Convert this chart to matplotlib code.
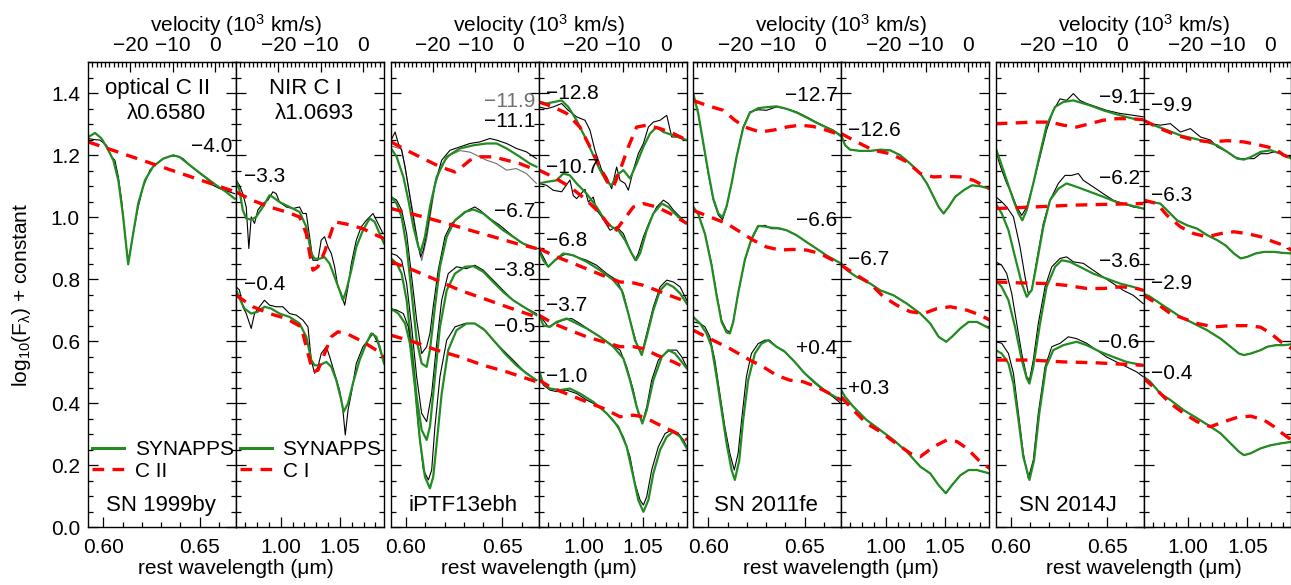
import numpy as np
import matplotlib
matplotlib.use("Agg")
import matplotlib.pyplot as plt
import matplotlib.transforms as mtransforms
from matplotlib.lines import Line2D
from matplotlib.ticker import MultipleLocator, FixedLocator, FormatStrFormatter

plt.rcParams['font.family'] = ['Liberation Sans', 'DejaVu Sans']
plt.rcParams['mathtext.fontset'] = 'custom'
plt.rcParams['mathtext.rm'] = 'Liberation Sans'
plt.rcParams['mathtext.it'] = 'Liberation Sans'

C_KMS = 299792.458
LAM_CII = 0.6580
LAM_CI = 1.0693
GREEN = '#228b22'
FS = 15

# ---------------- SN 1999by ----------------
sn99_o_m40_obs = [(0.5922,1.254),(0.5948,1.251),(0.5982,1.249),(0.6017,1.232),(0.6043,1.195),(0.6060,1.184),(0.6078,1.130),(0.6095,1.055),(0.6112,0.947),(0.6129,0.851),(0.6155,0.947),(0.6181,1.033),(0.6207,1.098),(0.6242,1.152),(0.6276,1.173),(0.6311,1.189),(0.6345,1.197),(0.6380,1.198),(0.6414,1.189),(0.6449,1.168),(0.6501,1.141),(0.6535,1.125),(0.6570,1.103),(0.6605,1.092),(0.6639,1.085),(0.6682,1.076)]
sn99_o_m40_fit = [(0.5922,1.259),(0.5957,1.272),(0.5991,1.254),(0.6026,1.216),(0.6052,1.184),(0.6078,1.119),(0.6103,1.001),(0.6129,0.848),(0.6155,0.947),(0.6181,1.044),(0.6216,1.119),(0.6259,1.164),(0.6311,1.189),(0.6363,1.200),(0.6397,1.194),(0.6449,1.168),(0.6518,1.135),(0.6587,1.103),(0.6639,1.081),(0.6682,1.060)]
sn99_o_m40_ion = [(0.5922,1.243),(0.6300,1.163),(0.6690,1.081)]

sn99_n_m33_obs = [(0.9624,1.119),(0.9652,1.103),(0.9680,1.076),(0.9709,1.033),(0.9731,0.899),(0.9751,1.001),(0.9779,0.980),(0.9807,1.023),(0.9849,1.044),(0.9892,1.055),(0.9934,1.082),(0.9962,1.076),(0.9990,1.049),(1.0047,1.033),(1.0103,1.028),(1.0159,1.033),(1.0187,1.012),(1.0216,1.012),(1.0244,0.937),(1.0272,0.861),(1.0314,0.861),(1.0342,0.926),(1.0370,0.937),(1.0399,0.904),(1.0427,0.883),(1.0455,0.840),(1.0483,0.775),(1.0511,0.754),(1.0540,0.716),(1.0568,0.775),(1.0596,0.850),(1.0638,0.926),(1.0680,0.969),(1.0723,0.990),(1.0779,1.012),(1.0821,0.980),(1.0863,0.947)]
sn99_n_m33_fit = [(0.9624,1.119),(0.9652,1.087),(0.9680,1.023),(0.9709,0.996),(0.9751,0.992),(0.9793,1.001),(0.9849,1.033),(0.9906,1.071),(0.9934,1.065),(0.9990,1.049),(1.0075,1.033),(1.0159,1.017),(1.0216,0.969),(1.0258,0.883),(1.0286,0.866),(1.0328,0.866),(1.0370,0.871),(1.0413,0.850),(1.0455,0.807),(1.0497,0.764),(1.0525,0.732),(1.0554,0.764),(1.0596,0.829),(1.0638,0.904),(1.0694,0.958),(1.0751,0.996),(1.0793,0.985),(1.0835,0.947),(1.0872,0.915)]
sn99_n_m33_ion = [(0.9624,1.081),(0.9765,1.054),(0.9906,1.033),(1.0047,1.017),(1.0159,1.001),(1.0216,0.947),(1.0244,0.883),(1.0272,0.829),(1.0314,0.840),(1.0370,0.888),(1.0413,0.937),(1.0455,0.985),(1.0554,0.978),(1.0694,0.963),(1.0807,0.942),(1.0872,0.931)]

sn99_n_m04_obs = [(0.9624,0.775),(0.9652,0.765),(0.9680,0.711),(0.9709,0.689),(0.9751,0.641),(0.9779,0.689),(0.9821,0.711),(0.9863,0.732),(0.9906,0.716),(0.9962,0.711),(1.0018,0.711),(1.0075,0.689),(1.0131,0.684),(1.0187,0.668),(1.0230,0.646),(1.0258,0.539),(1.0286,0.496),(1.0314,0.517),(1.0342,0.560),(1.0385,0.582),(1.0413,0.550),(1.0455,0.496),(1.0497,0.442),(1.0525,0.377),(1.0545,0.297),(1.0568,0.377),(1.0596,0.431),(1.0638,0.528),(1.0694,0.582),(1.0737,0.603),(1.0779,0.625),(1.0821,0.593),(1.0863,0.539)]
sn99_n_m04_fit = [(0.9624,0.765),(0.9652,0.738),(0.9694,0.705),(0.9751,0.689),(0.9807,0.695),(0.9863,0.711),(0.9920,0.705),(0.9990,0.689),(1.0075,0.678),(1.0159,0.657),(1.0216,0.614),(1.0258,0.539),(1.0286,0.522),(1.0328,0.522),(1.0385,0.533),(1.0427,0.517),(1.0469,0.474),(1.0511,0.410),(1.0531,0.372),(1.0568,0.399),(1.0610,0.464),(1.0666,0.539),(1.0723,0.593),(1.0765,0.625),(1.0807,0.614),(1.0835,0.582),(1.0872,0.528)]
sn99_n_m04_ion = [(0.9624,0.748),(0.9765,0.711),(0.9906,0.689),(1.0047,0.673),(1.0173,0.646),(1.0230,0.560),(1.0272,0.501),(1.0314,0.506),(1.0370,0.560),(1.0427,0.614),(1.0483,0.630),(1.0554,0.625),(1.0694,0.598),(1.0807,0.571),(1.0872,0.549)]

# ---------------- iPTF13ebh ----------------
ip13_o_m119_obs = [(0.5922,1.230),(0.5977,1.220),(0.6020,1.070),(0.6064,0.910),(0.6081,0.860),(0.6107,0.930),(0.6150,1.100),(0.6185,1.170),(0.6228,1.200),(0.6280,1.215),(0.6332,1.210),(0.6366,1.200),(0.6418,1.184),(0.6470,1.173),(0.6522,1.152),(0.6573,1.157),(0.6625,1.141),(0.6677,1.109)]
ip13_o_m111_obs = [(0.5922,1.248),(0.5943,1.275),(0.5960,1.238),(0.5977,1.216),(0.5995,1.163),(0.6020,1.066),(0.6046,0.969),(0.6064,0.904),(0.6076,0.872),(0.6090,0.894),(0.6107,0.947),(0.6124,1.012),(0.6150,1.109),(0.6185,1.184),(0.6228,1.216),(0.6280,1.227),(0.6332,1.238),(0.6383,1.243),(0.6435,1.254),(0.6470,1.249),(0.6522,1.238),(0.6573,1.222),(0.6625,1.211),(0.6677,1.189)]
ip13_o_m111_fit = [(0.5922,1.222),(0.5951,1.195),(0.5986,1.130),(0.6012,1.055),(0.6038,0.969),(0.6064,0.904),(0.6076,0.888),(0.6098,0.937),(0.6124,1.033),(0.6159,1.130),(0.6211,1.195),(0.6280,1.222),(0.6349,1.232),(0.6418,1.238),(0.6470,1.238),(0.6522,1.222),(0.6591,1.195),(0.6643,1.173),(0.6677,1.163)]
ip13_o_m111_ion = [(0.5922,1.243),(0.6003,1.216),(0.6090,1.189),(0.6176,1.163),(0.6254,1.146),(0.6280,1.157),(0.6332,1.184),(0.6383,1.195),(0.6452,1.195),(0.6522,1.184),(0.6591,1.173),(0.6677,1.152)]

ip13_o_m67_obs = [(0.5922,1.066),(0.5951,1.055),(0.5977,1.023),(0.6003,0.947),(0.6029,0.808),(0.6055,0.668),(0.6081,0.560),(0.6107,0.582),(0.6124,0.625),(0.6141,0.711),(0.6167,0.829),(0.6202,0.937),(0.6236,0.980),(0.6280,1.001),(0.6323,1.023),(0.6357,1.033),(0.6383,1.023),(0.6435,0.996),(0.6487,0.974),(0.6539,0.947),(0.6591,0.920),(0.6643,0.904),(0.6677,0.899)]
ip13_o_m67_fit = [(0.5922,1.066),(0.5951,1.044),(0.5977,1.001),(0.6003,0.904),(0.6029,0.754),(0.6055,0.603),(0.6081,0.528),(0.6107,0.517),(0.6124,0.571),(0.6150,0.711),(0.6176,0.840),(0.6211,0.937),(0.6254,0.990),(0.6306,1.017),(0.6349,1.025),(0.6401,1.012),(0.6452,0.985),(0.6504,0.958),(0.6556,0.937),(0.6608,0.915),(0.6677,0.899)]
ip13_o_m67_ion = [(0.5922,1.028),(0.6090,1.001),(0.6211,0.980),(0.6332,0.958),(0.6452,0.937),(0.6573,0.915),(0.6677,0.899)]

ip13_o_m38_obs = [(0.5922,0.883),(0.5951,0.877),(0.5977,0.861),(0.6003,0.786),(0.6029,0.646),(0.6055,0.485),(0.6081,0.367),(0.6107,0.340),(0.6133,0.431),(0.6159,0.592),(0.6185,0.732),(0.6219,0.818),(0.6262,0.840),(0.6314,0.834),(0.6357,0.845),(0.6401,0.829),(0.6452,0.797),(0.6504,0.764),(0.6556,0.732),(0.6608,0.711),(0.6677,0.689)]
ip13_o_m38_fit = [(0.5922,0.867),(0.5951,0.851),(0.5977,0.818),(0.6003,0.732),(0.6029,0.582),(0.6055,0.420),(0.6081,0.313),(0.6107,0.281),(0.6124,0.324),(0.6150,0.485),(0.6176,0.646),(0.6211,0.764),(0.6254,0.818),(0.6306,0.840),(0.6349,0.842),(0.6401,0.824),(0.6452,0.791),(0.6504,0.759),(0.6556,0.732),(0.6625,0.705),(0.6677,0.684)]
ip13_o_m38_ion = [(0.5922,0.856),(0.6038,0.829),(0.6159,0.797),(0.6280,0.764),(0.6401,0.738),(0.6522,0.711),(0.6677,0.678)]

ip13_o_m05_obs = [(0.5922,0.705),(0.5951,0.700),(0.5986,0.689),(0.6012,0.646),(0.6038,0.517),(0.6064,0.324),(0.6090,0.184),(0.6116,0.152),(0.6133,0.184),(0.6150,0.324),(0.6176,0.485),(0.6211,0.603),(0.6254,0.646),(0.6306,0.657),(0.6357,0.657),(0.6401,0.641),(0.6452,0.603),(0.6504,0.571),(0.6556,0.539),(0.6608,0.506),(0.6677,0.474)]
ip13_o_m05_fit = [(0.5922,0.705),(0.5960,0.689),(0.5995,0.657),(0.6020,0.593),(0.6046,0.453),(0.6072,0.281),(0.6098,0.162),(0.6124,0.125),(0.6141,0.162),(0.6159,0.270),(0.6185,0.431),(0.6219,0.571),(0.6262,0.635),(0.6314,0.657),(0.6357,0.657),(0.6409,0.635),(0.6461,0.598),(0.6513,0.560),(0.6573,0.522),(0.6625,0.496),(0.6677,0.474)]
ip13_o_m05_ion = [(0.5922,0.619),(0.6038,0.598),(0.6159,0.571),(0.6280,0.549),(0.6401,0.522),(0.6522,0.501),(0.6677,0.469)]

ip13_n_m128_obs = [(0.9624,1.356),(0.9689,1.350),(0.9745,1.356),(0.9816,1.367),(0.9872,1.345),(0.9942,1.324),(1.0013,1.313),(1.0055,1.281),(1.0097,1.216),(1.0154,1.152),(1.0196,1.130),(1.0238,1.092),(1.0280,1.162),(1.0309,1.119),(1.0351,1.109),(1.0379,1.087),(1.0421,1.152),(1.0463,1.205),(1.0506,1.238),(1.0548,1.291),(1.0590,1.307),(1.0647,1.313),(1.0703,1.329),(1.0745,1.259),(1.0801,1.259),(1.0872,1.249)]
ip13_n_m128_fit = [(0.9624,1.372),(0.9689,1.367),(0.9816,1.377),(0.9872,1.356),(0.9942,1.313),(1.0013,1.259),(1.0083,1.200),(1.0140,1.152),(1.0196,1.114),(1.0238,1.103),(1.0280,1.135),(1.0337,1.152),(1.0393,1.125),(1.0449,1.173),(1.0506,1.227),(1.0562,1.270),(1.0618,1.291),(1.0675,1.275),(1.0759,1.264),(1.0872,1.249)]
ip13_n_m128_ion = [(0.9624,1.372),(0.9745,1.356),(0.9858,1.335),(0.9970,1.291),(1.0055,1.227),(1.0140,1.162),(1.0210,1.109),(1.0252,1.098),(1.0309,1.152),(1.0379,1.227),(1.0449,1.291),(1.0534,1.297),(1.0647,1.286),(1.0759,1.270),(1.0872,1.249)]

ip13_n_m107_obs = [(0.9624,1.109),(0.9689,1.103),(0.9745,1.087),(0.9816,1.082),(0.9886,1.120),(0.9914,1.070),(0.9942,1.060),(1.0013,1.090),(1.0041,1.049),(1.0083,1.065),(1.0111,1.023),(1.0154,1.001),(1.0224,0.958),(1.0280,0.969),(1.0337,0.947),(1.0393,0.894),(1.0435,0.861),(1.0463,0.883),(1.0506,0.937),(1.0562,0.990),(1.0618,1.033),(1.0675,1.055),(1.0717,1.044),(1.0759,1.023),(1.0816,1.001),(1.0872,0.980)]
ip13_n_m107_fit = [(0.9624,1.109),(0.9689,1.114),(0.9773,1.119),(0.9830,1.141),(0.9886,1.135),(0.9942,1.109),(1.0027,1.076),(1.0111,1.033),(1.0182,0.990),(1.0238,0.969),(1.0294,0.958),(1.0351,0.926),(1.0407,0.883),(1.0444,0.861),(1.0478,0.883),(1.0534,0.958),(1.0590,1.012),(1.0661,1.044),(1.0717,1.033),(1.0787,1.006),(1.0872,0.980)]
ip13_n_m107_ion = [(0.9624,1.152),(0.9745,1.130),(0.9886,1.098),(1.0027,1.055),(1.0140,1.012),(1.0224,0.969),(1.0266,0.953),(1.0337,0.990),(1.0421,1.033),(1.0506,1.044),(1.0618,1.033),(1.0731,1.012),(1.0872,0.980)]

ip13_n_m68_obs = [(0.9624,0.899),(0.9661,0.872),(0.9703,0.840),(0.9745,0.856),(0.9801,0.872),(0.9858,0.883),(0.9942,0.872),(1.0027,0.861),(1.0111,0.845),(1.0196,0.818),(1.0280,0.797),(1.0337,0.754),(1.0393,0.668),(1.0449,0.592),(1.0492,0.560),(1.0534,0.625),(1.0590,0.711),(1.0647,0.775),(1.0703,0.797),(1.0759,0.791),(1.0816,0.775),(1.0872,0.732)]
ip13_n_m68_fit = [(0.9624,0.894),(0.9661,0.861),(0.9703,0.840),(0.9759,0.861),(0.9830,0.883),(0.9914,0.877),(1.0027,0.856),(1.0140,0.829),(1.0252,0.797),(1.0323,0.764),(1.0379,0.689),(1.0435,0.603),(1.0492,0.555),(1.0534,0.614),(1.0590,0.700),(1.0647,0.764),(1.0703,0.786),(1.0759,0.775),(1.0816,0.754),(1.0872,0.721)]
ip13_n_m68_ion = [(0.9624,0.899),(0.9773,0.872),(0.9914,0.851),(1.0055,0.829),(1.0196,0.807),(1.0309,0.791),(1.0421,0.788),(1.0506,0.780),(1.0618,0.764),(1.0759,0.743),(1.0872,0.727)]

ip13_n_m37_obs = [(0.9624,0.689),(0.9661,0.668),(0.9703,0.646),(0.9759,0.657),(0.9830,0.668),(0.9900,0.673),(0.9970,0.657),(1.0055,0.635),(1.0140,0.614),(1.0224,0.592),(1.0309,0.571),(1.0365,0.517),(1.0421,0.442),(1.0463,0.367),(1.0500,0.340),(1.0534,0.388),(1.0576,0.474),(1.0632,0.539),(1.0689,0.560),(1.0731,0.571),(1.0787,0.571),(1.0830,0.549),(1.0872,0.517)]
ip13_n_m37_fit = [(0.9624,0.689),(0.9661,0.651),(0.9717,0.646),(0.9773,0.662),(0.9858,0.673),(0.9942,0.657),(1.0027,0.641),(1.0140,0.614),(1.0252,0.582),(1.0337,0.544),(1.0393,0.474),(1.0449,0.388),(1.0497,0.334),(1.0534,0.377),(1.0590,0.474),(1.0661,0.549),(1.0717,0.571),(1.0773,0.560),(1.0830,0.533),(1.0872,0.512)]
ip13_n_m37_ion = [(0.9624,0.684),(0.9745,0.657),(0.9886,0.635),(1.0027,0.614),(1.0168,0.598),(1.0309,0.582),(1.0421,0.582),(1.0506,0.576),(1.0618,0.555),(1.0759,0.533),(1.0872,0.512)]

ip13_n_m10_obs = [(0.9624,0.506),(0.9661,0.458),(0.9717,0.442),(0.9773,0.437),(0.9858,0.442),(0.9942,0.431),(1.0027,0.410),(1.0140,0.388),(1.0252,0.345),(1.0337,0.291),(1.0393,0.227),(1.0435,0.141),(1.0478,0.087),(1.0506,0.071),(1.0534,0.098),(1.0576,0.184),(1.0632,0.259),(1.0689,0.302),(1.0745,0.313),(1.0801,0.302),(1.0844,0.281),(1.0872,0.259)]
ip13_n_m10_fit = [(0.9624,0.506),(0.9661,0.463),(0.9717,0.447),(0.9801,0.442),(0.9886,0.447),(0.9970,0.431),(1.0083,0.404),(1.0196,0.367),(1.0294,0.324),(1.0365,0.259),(1.0421,0.162),(1.0463,0.087),(1.0506,0.049),(1.0548,0.087),(1.0590,0.173),(1.0647,0.249),(1.0703,0.291),(1.0759,0.308),(1.0816,0.291),(1.0872,0.254)]
ip13_n_m10_ion = [(0.9624,0.474),(0.9745,0.447),(0.9886,0.426),(1.0027,0.404),(1.0168,0.383),(1.0309,0.356),(1.0421,0.361),(1.0506,0.356),(1.0618,0.334),(1.0731,0.313),(1.0816,0.297),(1.0872,0.281)]

# ---------------- SN 2011fe ----------------
sn11_o_m127_obs = [(0.5922,1.399),(0.5948,1.334),(0.5974,1.238),(0.6000,1.141),(0.6026,1.055),(0.6052,1.007),(0.6074,0.992),(0.6095,1.033),(0.6121,1.109),(0.6147,1.195),(0.6181,1.291),(0.6216,1.340),(0.6259,1.347),(0.6302,1.345),(0.6354,1.356),(0.6406,1.350),(0.6458,1.340),(0.6510,1.324),(0.6561,1.307),(0.6613,1.291),(0.6648,1.281),(0.6688,1.265)]
sn11_o_m127_fit = [(0.5922,1.399),(0.5948,1.334),(0.5974,1.240),(0.6000,1.145),(0.6026,1.060),(0.6052,1.012),(0.6074,1.000),(0.6095,1.035),(0.6121,1.109),(0.6147,1.195),(0.6181,1.288),(0.6216,1.337),(0.6259,1.352),(0.6302,1.355),(0.6354,1.358),(0.6406,1.350),(0.6458,1.338),(0.6510,1.322),(0.6561,1.305),(0.6613,1.290),(0.6648,1.280),(0.6688,1.262)]
sn11_o_m127_ion = [(0.5922,1.377),(0.5991,1.361),(0.6078,1.345),(0.6138,1.313),(0.6190,1.291),(0.6268,1.275),(0.6337,1.281),(0.6406,1.291),(0.6475,1.297),(0.6544,1.293),(0.6613,1.281),(0.6688,1.265)]

sn11_o_m66_obs = [(0.5922,1.033),(0.5948,1.012),(0.5983,0.947),(0.6017,0.850),(0.6043,0.754),(0.6069,0.668),(0.6095,0.635),(0.6112,0.630),(0.6129,0.662),(0.6155,0.754),(0.6190,0.861),(0.6224,0.926),(0.6259,0.969),(0.6294,0.974),(0.6328,0.963),(0.6363,0.963),(0.6406,0.958),(0.6458,0.942),(0.6510,0.920),(0.6561,0.899),(0.6613,0.877),(0.6688,0.851)]
sn11_o_m66_fit = [(0.5922,1.033),(0.5948,1.010),(0.5983,0.945),(0.6017,0.845),(0.6043,0.748),(0.6069,0.662),(0.6095,0.628),(0.6112,0.625),(0.6129,0.660),(0.6155,0.754),(0.6190,0.863),(0.6224,0.930),(0.6259,0.972),(0.6294,0.970),(0.6328,0.966),(0.6363,0.965),(0.6406,0.958),(0.6458,0.942),(0.6510,0.920),(0.6561,0.899),(0.6613,0.877),(0.6688,0.851)]
sn11_o_m66_ion = [(0.5922,1.022),(0.6008,1.001),(0.6095,0.980),(0.6164,0.953),(0.6233,0.926),(0.6302,0.904),(0.6371,0.894),(0.6440,0.896),(0.6510,0.894),(0.6579,0.883),(0.6648,0.861),(0.6688,0.845)]

sn11_o_p04_obs = [(0.5922,0.662),(0.5957,0.657),(0.5983,0.646),(0.6008,0.614),(0.6034,0.539),(0.6060,0.431),(0.6086,0.324),(0.6112,0.238),(0.6135,0.184),(0.6155,0.238),(0.6173,0.345),(0.6198,0.485),(0.6224,0.560),(0.6259,0.592),(0.6294,0.603),(0.6319,0.603),(0.6354,0.582),(0.6389,0.571),(0.6440,0.539),(0.6492,0.501),(0.6544,0.469),(0.6596,0.442),(0.6648,0.420),(0.6688,0.399)]
sn11_o_p04_fit = [(0.5922,0.678),(0.5957,0.657),(0.5991,0.625),(0.6017,0.582),(0.6043,0.485),(0.6069,0.377),(0.6095,0.270),(0.6121,0.184),(0.6138,0.152),(0.6161,0.216),(0.6181,0.345),(0.6207,0.474),(0.6242,0.560),(0.6276,0.592),(0.6311,0.603),(0.6354,0.582),(0.6397,0.566),(0.6449,0.533),(0.6501,0.496),(0.6561,0.463),(0.6613,0.437),(0.6688,0.410)]
sn11_o_p04_ion = [(0.5922,0.635),(0.6008,0.608),(0.6112,0.576),(0.6216,0.539),(0.6285,0.517),(0.6354,0.490),(0.6423,0.474),(0.6492,0.469),(0.6561,0.453),(0.6630,0.431),(0.6688,0.410)]

sn11_n_m126_obs = [(0.9624,1.265),(0.9658,1.232),(0.9700,1.218),(0.9785,1.214),(0.9869,1.214),(0.9954,1.218),(1.0038,1.216),(1.0123,1.200),(1.0207,1.173),(1.0292,1.141),(1.0348,1.109),(1.0404,1.066),(1.0447,1.033),(1.0489,1.012),(1.0531,1.033),(1.0587,1.066),(1.0658,1.087),(1.0728,1.103),(1.0799,1.100),(1.0877,1.092)]
sn11_n_m126_fit = sn11_n_m126_obs
sn11_n_m126_ion = [(0.9624,1.270),(0.9756,1.243),(0.9897,1.216),(1.0038,1.205),(1.0179,1.179),(1.0292,1.141),(1.0404,1.130),(1.0517,1.132),(1.0630,1.130),(1.0742,1.119),(1.0877,1.092)]

sn11_n_m67_obs = [(0.9624,0.851),(0.9672,0.829),(0.9756,0.807),(0.9869,0.786),(0.9954,0.764),(1.0066,0.748),(1.0179,0.721),(1.0292,0.689),(1.0376,0.657),(1.0447,0.614),(1.0511,0.598),(1.0559,0.614),(1.0630,0.641),(1.0700,0.662),(1.0770,0.662),(1.0827,0.651),(1.0877,0.641)]
sn11_n_m67_fit = sn11_n_m67_obs
sn11_n_m67_ion = [(0.9624,0.845),(0.9756,0.813),(0.9869,0.786),(0.9982,0.743),(1.0094,0.716),(1.0207,0.695),(1.0320,0.689),(1.0432,0.705),(1.0545,0.711),(1.0686,0.700),(1.0799,0.684),(1.0877,0.668)]

sn11_n_p03_obs = [(0.9624,0.442),(0.9658,0.420),(0.9728,0.388),(0.9840,0.345),(0.9954,0.313),(1.0066,0.281),(1.0179,0.243),(1.0292,0.195),(1.0376,0.173),(1.0447,0.135),(1.0508,0.109),(1.0559,0.135),(1.0630,0.167),(1.0700,0.184),(1.0770,0.184),(1.0827,0.178),(1.0877,0.173)]
sn11_n_p03_fit = sn11_n_p03_obs
sn11_n_p03_ion = [(0.9624,0.420),(0.9728,0.377),(0.9840,0.334),(0.9954,0.308),(1.0066,0.276),(1.0207,0.238),(1.0292,0.227),(1.0404,0.259),(1.0517,0.281),(1.0601,0.276),(1.0686,0.254),(1.0784,0.216),(1.0877,0.189)]

# ---------------- SN 2014J ----------------
sn14_o_m91_obs = [(0.5922,1.227),(0.5936,1.184),(0.5953,1.152),(0.5979,1.109),(0.6005,1.076),(0.6031,1.033),(0.6057,1.006),(0.6083,1.033),(0.6117,1.109),(0.6152,1.195),(0.6186,1.281),(0.6221,1.345),(0.6256,1.382),(0.6290,1.377),(0.6325,1.399),(0.6359,1.377),(0.6394,1.367),(0.6446,1.356),(0.6497,1.345),(0.6567,1.335),(0.6636,1.329),(0.6688,1.324)]
sn14_o_m91_fit = [(0.5922,1.222),(0.5944,1.184),(0.5979,1.119),(0.6014,1.055),(0.6040,1.012),(0.6060,0.990),(0.6083,1.023),(0.6117,1.109),(0.6152,1.205),(0.6186,1.296),(0.6230,1.356),(0.6273,1.372),(0.6325,1.377),(0.6411,1.361),(0.6480,1.345),(0.6567,1.329),(0.6636,1.318),(0.6688,1.313)]
sn14_o_m91_ion = [(0.5922,1.302),(0.6014,1.304),(0.6117,1.307),(0.6204,1.307),(0.6273,1.297),(0.6342,1.291),(0.6411,1.302),(0.6480,1.313),(0.6549,1.318),(0.6618,1.318),(0.6688,1.315)]

sn14_o_m62_obs = [(0.5922,1.066),(0.5953,1.050),(0.5979,1.033),(0.6014,1.001),(0.6048,0.904),(0.6074,0.808),(0.6091,0.754),(0.6109,0.765),(0.6135,0.861),(0.6169,0.980),(0.6204,1.055),(0.6247,1.109),(0.6282,1.135),(0.6316,1.135),(0.6351,1.141),(0.6377,1.119),(0.6428,1.098),(0.6480,1.076),(0.6532,1.055),(0.6584,1.044),(0.6636,1.033),(0.6688,1.028)]
sn14_o_m62_fit = [(0.5922,1.044),(0.5953,1.012),(0.5988,0.958),(0.6022,0.872),(0.6057,0.786),(0.6083,0.743),(0.6109,0.765),(0.6135,0.851),(0.6169,0.969),(0.6204,1.055),(0.6247,1.092),(0.6290,1.109),(0.6342,1.098),(0.6411,1.082),(0.6480,1.066),(0.6549,1.049),(0.6618,1.039),(0.6688,1.028)]
sn14_o_m62_ion = [(0.5922,1.028),(0.6117,1.033),(0.6325,1.039),(0.6532,1.042),(0.6688,1.044)]

sn14_o_m36_obs = [(0.5922,0.856),(0.5953,0.845),(0.5979,0.818),(0.6005,0.754),(0.6031,0.657),(0.6057,0.560),(0.6083,0.485),(0.6097,0.474),(0.6117,0.539),(0.6143,0.657),(0.6178,0.775),(0.6213,0.840),(0.6256,0.867),(0.6290,0.872),(0.6325,0.856),(0.6377,0.851),(0.6428,0.829),(0.6480,0.807),(0.6532,0.786),(0.6584,0.764),(0.6636,0.748),(0.6688,0.721)]
sn14_o_m36_fit = [(0.5922,0.797),(0.5953,0.775),(0.5988,0.732),(0.6022,0.646),(0.6057,0.539),(0.6083,0.480),(0.6097,0.463),(0.6117,0.517),(0.6152,0.657),(0.6186,0.775),(0.6230,0.840),(0.6264,0.861),(0.6307,0.856),(0.6359,0.840),(0.6428,0.818),(0.6497,0.802),(0.6567,0.786),(0.6636,0.775),(0.6688,0.764)]
sn14_o_m36_ion = [(0.5922,0.791),(0.6048,0.788),(0.6186,0.786),(0.6290,0.780),(0.6394,0.770),(0.6480,0.770),(0.6567,0.775),(0.6636,0.773),(0.6688,0.764)]

sn14_o_m06_obs = [(0.5922,0.598),(0.5953,0.593),(0.5988,0.560),(0.6014,0.496),(0.6040,0.367),(0.6065,0.238),(0.6091,0.157),(0.6117,0.216),(0.6143,0.367),(0.6178,0.517),(0.6213,0.582),(0.6256,0.593),(0.6299,0.614),(0.6342,0.608),(0.6394,0.593),(0.6446,0.571),(0.6497,0.549),(0.6549,0.533),(0.6601,0.517),(0.6653,0.501),(0.6688,0.485)]
sn14_o_m06_fit = [(0.5922,0.571),(0.5953,0.560),(0.5988,0.528),(0.6014,0.463),(0.6040,0.345),(0.6065,0.227),(0.6097,0.152),(0.6121,0.216),(0.6148,0.367),(0.6183,0.517),(0.6221,0.571),(0.6273,0.587),(0.6342,0.598),(0.6394,0.587),(0.6463,0.566),(0.6532,0.549),(0.6601,0.533),(0.6688,0.522)]
sn14_o_m06_ion = [(0.5922,0.539),(0.6100,0.539),(0.6273,0.533),(0.6446,0.530),(0.6567,0.526),(0.6688,0.522)]

sn14_n_m99_obs = [(0.9624,1.313),(0.9680,1.302),(0.9765,1.297),(0.9850,1.302),(0.9935,1.275),(1.0019,1.286),(1.0104,1.259),(1.0189,1.249),(1.0245,1.227),(1.0330,1.211),(1.0386,1.195),(1.0443,1.189),(1.0499,1.189),(1.0556,1.189),(1.0612,1.205),(1.0669,1.205),(1.0725,1.211),(1.0782,1.205),(1.0824,1.200),(1.0872,1.194)]
sn14_n_m99_fit = [(0.9624,1.313),(0.9709,1.297),(0.9822,1.281),(0.9935,1.264),(1.0048,1.254),(1.0161,1.243),(1.0245,1.232),(1.0330,1.211),(1.0415,1.189),(1.0471,1.186),(1.0528,1.194),(1.0612,1.211),(1.0697,1.216),(1.0782,1.205),(1.0872,1.189)]
sn14_n_m99_ion = [(0.9624,1.313),(0.9765,1.286),(0.9906,1.264),(1.0048,1.249),(1.0189,1.243),(1.0330,1.247),(1.0471,1.243),(1.0612,1.232),(1.0725,1.222),(1.0810,1.200),(1.0872,1.189)]

sn14_n_m63_obs = [(0.9624,1.055),(0.9680,1.050),(0.9765,1.044),(0.9836,1.017),(0.9906,0.990),(0.9991,0.974),(1.0076,0.963),(1.0161,0.942),(1.0245,0.926),(1.0316,0.909),(1.0386,0.883),(1.0443,0.867),(1.0499,0.872),(1.0570,0.883),(1.0641,0.888),(1.0725,0.888),(1.0796,0.885),(1.0872,0.883)]
sn14_n_m63_fit = sn14_n_m63_obs
sn14_n_m63_ion = [(0.9624,1.055),(0.9737,1.044),(0.9822,1.006),(0.9935,0.969),(1.0048,0.947),(1.0161,0.937),(1.0274,0.947),(1.0386,0.953),(1.0499,0.947),(1.0612,0.937),(1.0725,0.920),(1.0810,0.909),(1.0872,0.893)]

sn14_n_m29_obs = [(0.9624,0.753),(0.9680,0.743),(0.9765,0.721),(0.9850,0.700),(0.9935,0.678),(1.0048,0.657),(1.0161,0.635),(1.0274,0.608),(1.0358,0.582),(1.0429,0.560),(1.0471,0.555),(1.0528,0.560),(1.0612,0.571),(1.0669,0.582),(1.0739,0.587),(1.0810,0.587),(1.0872,0.590)]
sn14_n_m29_fit = sn14_n_m29_obs
sn14_n_m29_ion = [(0.9624,0.748),(0.9737,0.721),(0.9850,0.689),(0.9963,0.673),(1.0076,0.657),(1.0217,0.646),(1.0358,0.650),(1.0499,0.650),(1.0612,0.645),(1.0697,0.625),(1.0782,0.598),(1.0872,0.576)]

sn14_n_m04_obs = [(0.9624,0.485),(0.9680,0.469),(0.9765,0.431),(0.9850,0.410),(0.9963,0.377),(1.0076,0.351),(1.0189,0.324),(1.0274,0.302),(1.0358,0.270),(1.0429,0.243),(1.0471,0.232),(1.0528,0.238),(1.0612,0.254),(1.0697,0.264),(1.0782,0.270),(1.0872,0.275)]
sn14_n_m04_fit = sn14_n_m04_obs
sn14_n_m04_ion = [(0.9624,0.480),(0.9737,0.442),(0.9850,0.399),(0.9963,0.367),(1.0076,0.340),(1.0189,0.324),(1.0302,0.340),(1.0415,0.354),(1.0528,0.358),(1.0641,0.345),(1.0725,0.324),(1.0796,0.302),(1.0872,0.281)]

# panel contents
sn_names = ['SN 1999by', 'iPTF13ebh', 'SN 2011fe', 'SN 2014J']
opt_sets = [
    [(sn99_o_m40_obs, sn99_o_m40_fit, sn99_o_m40_ion)],
    [(ip13_o_m111_obs, ip13_o_m111_fit, ip13_o_m111_ion), (ip13_o_m67_obs, ip13_o_m67_fit, ip13_o_m67_ion),
     (ip13_o_m38_obs, ip13_o_m38_fit, ip13_o_m38_ion), (ip13_o_m05_obs, ip13_o_m05_fit, ip13_o_m05_ion)],
    [(sn11_o_m127_obs, sn11_o_m127_fit, sn11_o_m127_ion), (sn11_o_m66_obs, sn11_o_m66_fit, sn11_o_m66_ion),
     (sn11_o_p04_obs, sn11_o_p04_fit, sn11_o_p04_ion)],
    [(sn14_o_m91_obs, sn14_o_m91_fit, sn14_o_m91_ion), (sn14_o_m62_obs, sn14_o_m62_fit, sn14_o_m62_ion),
     (sn14_o_m36_obs, sn14_o_m36_fit, sn14_o_m36_ion), (sn14_o_m06_obs, sn14_o_m06_fit, sn14_o_m06_ion)],
]
nir_sets = [
    [(sn99_n_m33_obs, sn99_n_m33_fit, sn99_n_m33_ion), (sn99_n_m04_obs, sn99_n_m04_fit, sn99_n_m04_ion)],
    [(ip13_n_m128_obs, ip13_n_m128_fit, ip13_n_m128_ion), (ip13_n_m107_obs, ip13_n_m107_fit, ip13_n_m107_ion),
     (ip13_n_m68_obs, ip13_n_m68_fit, ip13_n_m68_ion), (ip13_n_m37_obs, ip13_n_m37_fit, ip13_n_m37_ion),
     (ip13_n_m10_obs, ip13_n_m10_fit, ip13_n_m10_ion)],
    [(sn11_n_m126_obs, sn11_n_m126_fit, sn11_n_m126_ion), (sn11_n_m67_obs, sn11_n_m67_fit, sn11_n_m67_ion),
     (sn11_n_p03_obs, sn11_n_p03_fit, sn11_n_p03_ion)],
    [(sn14_n_m99_obs, sn14_n_m99_fit, sn14_n_m99_ion), (sn14_n_m63_obs, sn14_n_m63_fit, sn14_n_m63_ion),
     (sn14_n_m29_obs, sn14_n_m29_fit, sn14_n_m29_ion), (sn14_n_m04_obs, sn14_n_m04_fit, sn14_n_m04_ion)],
]
opt_epochs = [['−4.0'], ['−11.1', '−6.7', '−3.8', '−0.5'], ['−12.7', '−6.6', '+0.4'], ['−9.1', '−6.2', '−3.6', '−0.6']]
opt_epoch_y = [[1.229], [1.308, 1.017, 0.829, 0.646], [1.394, 0.990, 0.576], [1.388, 1.125, 0.856, 0.595]]
nir_epochs = [['−3.3', '−0.4'], ['−12.8', '−10.7', '−6.8', '−3.7', '−1.0'], ['−12.6', '−6.7', '+0.3'], ['−9.9', '−6.3', '−2.9', '−0.4']]
nir_epoch_y = [[1.130, 0.784], [1.399, 1.162, 0.926, 0.716, 0.485], [1.281, 0.863, 0.447], [1.361, 1.071, 0.786, 0.496]]


def setup(ax, lam0, first):
    ax.set_xlim(lam0 * 0.9, lam0 * (1 + 5000 / C_KMS))
    ax.set_ylim(0, 1.5)
    ax.xaxis.set_major_locator(MultipleLocator(0.05))
    ax.xaxis.set_minor_locator(MultipleLocator(0.01))
    ax.xaxis.set_major_formatter(FormatStrFormatter('%.2f'))
    ax.yaxis.set_major_locator(MultipleLocator(0.2))
    ax.yaxis.set_minor_locator(MultipleLocator(0.05))
    ax.yaxis.set_major_formatter(FormatStrFormatter('%.1f'))
    ax.tick_params(which='both', direction='in', top=False, left=True, right=True, labelsize=FS, width=0.9)
    ax.tick_params(which='major', length=7)
    ax.tick_params(which='minor', length=3.5)
    ax.tick_params(axis='x', pad=8)
    ax.tick_params(axis='y', pad=6, labelleft=first)
    for s in ax.spines.values():
        s.set_linewidth(1.0)
    sec = ax.secondary_xaxis('top', functions=(lambda x, l=lam0: (x / l - 1) * C_KMS / 1000,
                                                lambda v, l=lam0: l * (1 + v * 1000 / C_KMS)))
    sec.xaxis.set_major_locator(FixedLocator([-20, -10, 0]))
    sec.xaxis.set_minor_locator(MultipleLocator(1))
    sec.tick_params(which='both', direction='in', labelsize=FS, width=0.9, pad=5)
    sec.tick_params(which='major', length=7)
    sec.tick_params(which='minor', length=3.5)


def draw(ax, curves):
    for obs, fit, ion in curves:
        ax.plot(*np.array(obs).T, color='black', lw=0.8)
        ax.plot(*np.array(fit).T, color=GREEN, lw=1.6)
        ax.plot(*np.array(ion).T, color='red', lw=2.4, dashes=(3.5, 2.5))


fig = plt.figure(figsize=(12.91, 5.85), dpi=100)
pair_left = [0.0684, 0.3029, 0.5370, 0.7713]
pw = 0.1145
bot, hgt = 0.0991, 0.7944

for i in range(4):
    ax_o = fig.add_axes([pair_left[i], bot, pw, hgt])
    ax_n = fig.add_axes([pair_left[i] + pw, bot, pw, hgt])
    setup(ax_o, LAM_CII, i == 0)
    setup(ax_n, LAM_CI, False)

    if i == 1:
        ax_o.plot(*np.array(ip13_o_m119_obs).T, color='#707070', lw=0.8)
    draw(ax_o, opt_sets[i])
    draw(ax_n, nir_sets[i])

    tr_o = mtransforms.blended_transform_factory(ax_o.transAxes, ax_o.transData)
    tr_n = mtransforms.blended_transform_factory(ax_n.transAxes, ax_n.transData)
    for lab, y in zip(opt_epochs[i], opt_epoch_y[i]):
        ax_o.text(0.975, y, lab, transform=tr_o, ha='right', va='center', fontsize=FS)
    for lab, y in zip(nir_epochs[i], nir_epoch_y[i]):
        ax_n.text(0.05, y, lab, transform=tr_n, ha='left', va='center', fontsize=FS)
    if i == 1:
        ax_o.text(0.975, 1.372, '−11.9', transform=tr_o, ha='right', va='center', fontsize=FS, color='#707070')

    ax_o.text(0.49, 0.047, sn_names[i], transform=ax_o.transAxes, ha='center', va='center', fontsize=FS + 1)

    cx = pair_left[i] + pw
    fig.text(cx, 0.957, 'velocity (10$^3$ km/s)', ha='center', va='center', fontsize=FS)
    fig.text(cx, 0.029, 'rest wavelength (μm)', ha='center', va='center', fontsize=FS)

    if i == 0:
        ax_o.text(0.467, 1.415, 'optical C II', transform=tr_o, ha='center', va='center', fontsize=FS + 1)
        ax_o.text(0.529, 1.334, 'λ0.6580', transform=tr_o, ha='center', va='center', fontsize=FS + 1)
        ax_n.text(0.471, 1.415, 'NIR C I', transform=tr_n, ha='center', va='center', fontsize=FS + 1)
        ax_n.text(0.530, 1.334, 'λ1.0693', transform=tr_n, ha='center', va='center', fontsize=FS + 1)
        for ax, ion_name in ((ax_o, 'C II'), (ax_n, 'C I')):
            handles = [Line2D([], [], color=GREEN, lw=2.2),
                       Line2D([], [], color='red', lw=2.4, dashes=(3.5, 2.5))]
            ax.legend(handles, ['SYNAPPS', ion_name], loc='lower left', bbox_to_anchor=(0.025, 0.10),
                      frameon=False, fontsize=FS, handlelength=1.55, handletextpad=0.5,
                      labelspacing=0.1, borderpad=0, borderaxespad=0)

fig.text(0.017, 0.4966, 'log$_{10}$(F$_{\\mathrm{λ}}$) + constant', rotation=90,
         ha='center', va='center', fontsize=FS)

fig.savefig('out.png', dpi=100)
